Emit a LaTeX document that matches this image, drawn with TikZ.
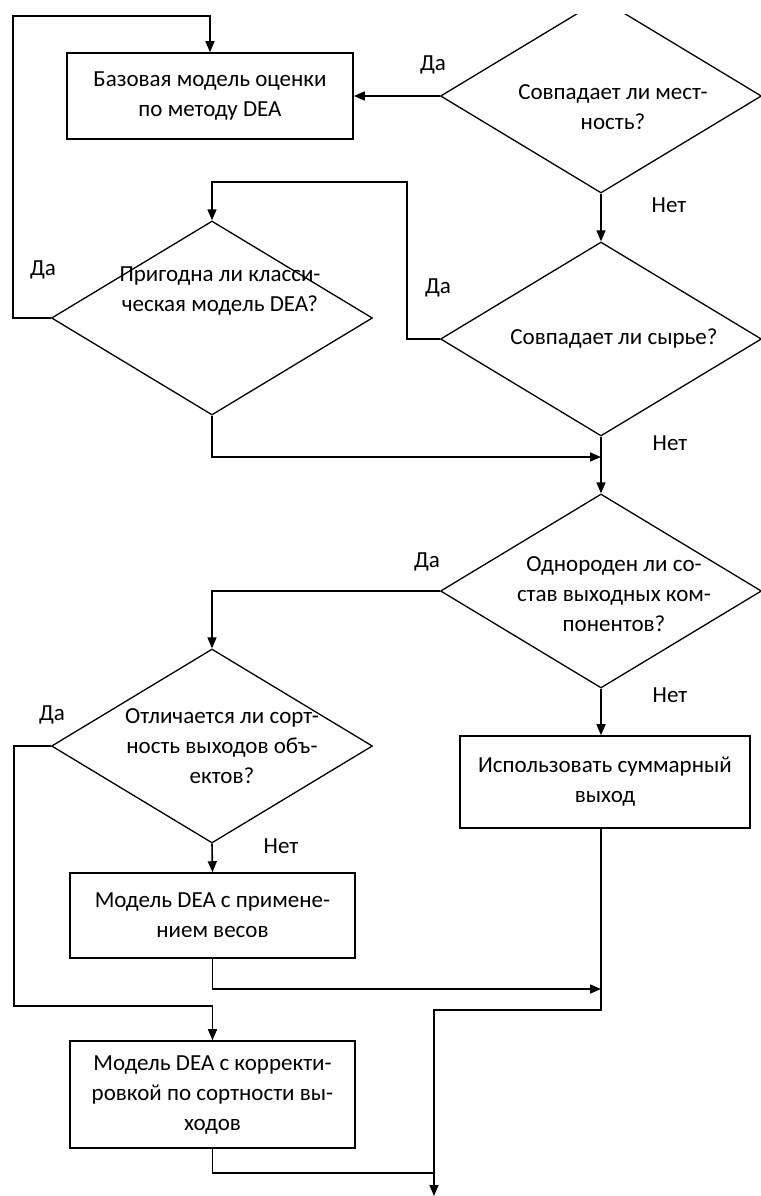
\documentclass[tikz,border=0pt]{standalone}
\usepackage{fontspec}
\setmainfont{Carlito}
\usetikzlibrary{shapes.geometric}
\usetikzlibrary{arrows.meta, positioning}
\tikzset{
    block/.style={
        draw,line width=.8pt,
        minimum width=143pt,minimum height=43pt,
        inner sep=0pt
    },
    decision/.style={
        draw,line width=.65pt,diamond,
        minimum width=160.5pt,minimum height=97pt,
        inner sep=0pt
    },
    txt/.style={
        align=center,inner sep=0pt,
        font=\fontsize{11.5}{15}\selectfont
    },
    answer/.style={
        inner sep=0pt,
        font=\fontsize{11.5}{14}\selectfont
    },
    >={Triangle[length=5.5pt,width=4.5pt]},
    line/.style={line width=.8pt},
}
\begin{document}
\begin{tikzpicture}[x=0.5pt,y=-0.5pt]
                \useasboundingbox (0,0) rectangle (761,1196);
                % decisions
                \begin{scope}
                \clip (0,14) rectangle (761,1196);
                \node[decision] (q1) at (601,96) {};
                \end{scope}
                \node[decision] (q2) at (601,339) {};
                \node[decision] (q3) at (212,318) {};
                \node[decision] (q4) at (601,591) {};
                \node[decision] (q5) at (212,746) {};
                \node[txt] (q1t) at ([shift={(12,11)}]q1.center) {Совпадает ли мест-\\ность?};
                \node[txt] (q2t) at ([shift={(13,0)}]q2.center) {Совпадает ли сырье?};
                \node[txt] (q3t) at ([shift={(8,-27)}]q3.center) {Пригодна ли класси-\\ческая модель DEA?};
                \node[txt] (q4t) at ([shift={(13,3)}]q4.center) {Однороден ли со-\\став выходных ком-\\понентов?};
                \node[txt] (q5t) at ([shift={(10,0)}]q5.center) {Отличается ли сорт-\\ность выходов объ-\\ектов?};
                % blocks
                \node[block] (b1) at (210,96) {};
                \node[block,minimum width=142.5pt,minimum height=42.5pt] (b2) at (212.5,915.5) {};
                \node[block,minimum width=142.5pt,minimum height=53.5pt] (b3) at (212.5,1094.5) {};
                \node[block,minimum width=145pt,minimum height=46pt] (b4) at (605,782) {};
                \node[txt] (b1t) at (b1) {Базовая модель оценки\\по методу DEA};
                \node[txt] (b2t) at (b2) {Модель DEA с примене-\\нием весов};
                \node[txt] (b3t) at (b3) {Модель DEA с корректи-\\ровкой по сортности вы-\\ходов};
                \node[txt] (b4t) at (b4) {Использовать суммарный\\выход};
                % answers
                \foreach \x/\y/\ans/\name in {433/65/Да/y1,438/288/Да/y2,43/270/Да/y3,427/562/Да/y4,52/715/Да/y5,
                    669/205/Нет/n1,670/443/Нет/n2,670/695/Нет/n4,281/846/Нет/n5}
                \node[answer] (\name) at (\x,\y) {\ans};
                % junctions
                \coordinate (c1) at (407,182);
                \coordinate (c2) at (13,16);
                \coordinate (j1) at (601,457);
                \coordinate (c4) at (14,1006);
                \coordinate (j2) at (601,989);
                \coordinate (c5) at (434,1010);
                \coordinate (out) at (434,1196);
                \coordinate (j3) at (434,1173);
                % connectors
                \draw[line,->] (q1.west) -- (b1.east);
                \draw[line,->] (q1.south) -- (q2.north);
                \draw[line,->] (q2.west) -| (c1) -| (q3.north);
                \draw[line,->] (q3.west) -| (c2) -| (b1.north);
                \draw[line,->] (q3.south) |- (j1);
                \draw[line,->] (q2.south) -- (q4.north);
                \draw[line,->] (q4.west) -| (q5.north);
                \draw[line,->] (q4.south) -- (q4.south |- b4.north);
                \draw[line,->] (q5.south) -- (b2.north);
                \draw[line,->] (q5.west) -| (c4) -| (b3.north);
                \draw[line,->] (b2.south) |- (j2);
                \draw[line,->] (q4.south |- b4.south) |- (c5) -- (out);
                \draw[line] (b3.south) |- (j3);
\end{tikzpicture}
\end{document}
